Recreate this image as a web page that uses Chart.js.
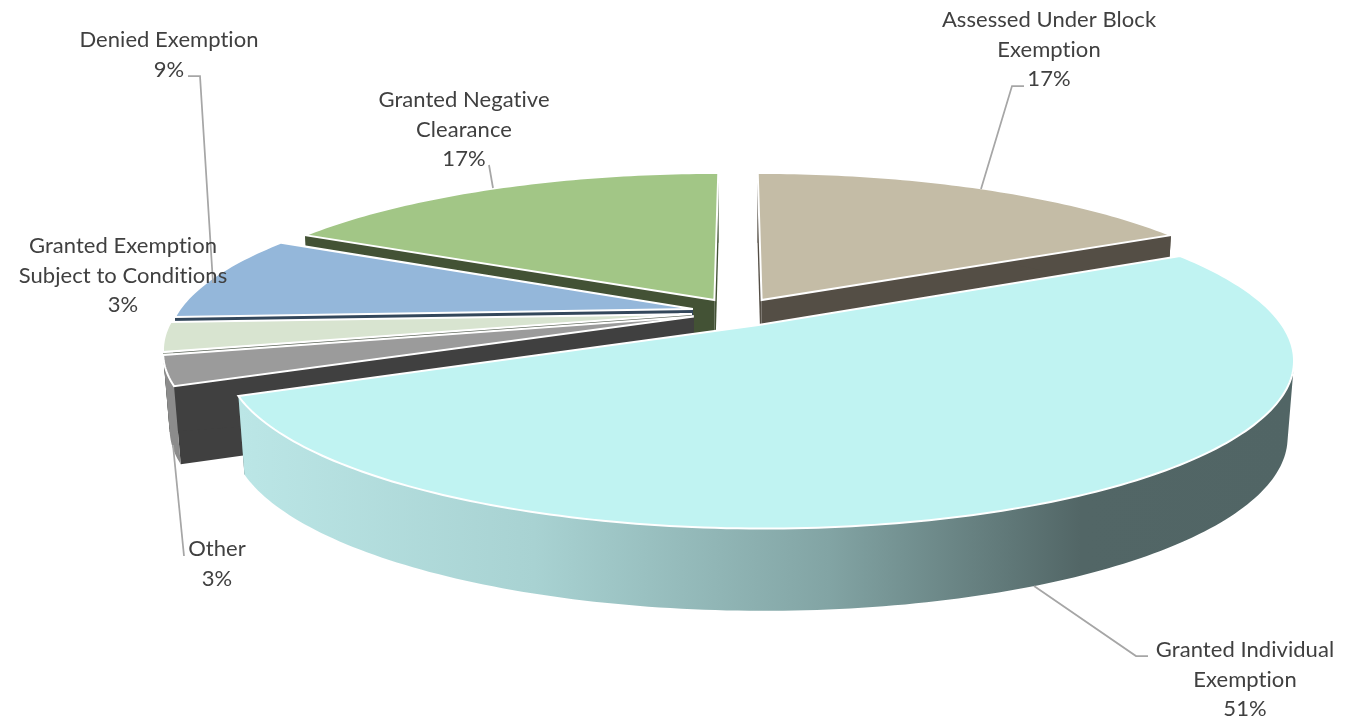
<!DOCTYPE html>
<html>
<head>
<meta charset="utf-8">
<title>Exemption outcomes</title>
<script src="https://cdn.jsdelivr.net/npm/chart.js@4"></script>
<style>
  html, body { margin: 0; padding: 0; background: #fff; }
  canvas { display: block; }
</style>
</head>
<body>
<canvas id="pie3d" width="1360" height="718"></canvas>
<script>
// Data, clockwise from twelve o'clock. Labels show whole percents, so the
// decimals are read from the slice corners in the picture.
const categories = ['Assessed Under Block Exemption', 'Granted Individual Exemption', 'Other',
  'Granted Exemption Subject to Conditions', 'Denied Exemption', 'Granted Negative Clearance'];
const shares = [17.3, 51.1, 2.9, 2.9, 8.5, 17.3];

// Colours per slice
const topColors = ['#c4bca6', '#c0f3f2', '#9b9b9b', '#d8e4d0', '#94b7da', '#a2c686'];
const sideColors = ['#544e45', '#4f6565', '#404040', '#5c6558', '#33475b', '#435235'];
const rimColors = ['#544e45', '#4f6565', '#8c8c8c', '#8c9488', '#33475b', '#435235'];
const bigRimStops = [[0, '#bbe6e6'], [0.28, '#a8d2d2'], [0.56, '#82a4a4'], [0.8, '#526666'], [1, '#516565']];

// Label layout: text lines, centre x, first baseline
const labelLines = [
  ['Assessed Under Block', 'Exemption'],
  ['Granted Individual', 'Exemption'],
  ['Other'],
  ['Granted Exemption', 'Subject to Conditions'],
  ['Denied Exemption'],
  ['Granted Negative', 'Clearance']
];
const labelX = [1049, 1245, 217, 123, 169, 464];
const labelY = [27, 657, 556, 253, 47, 107];
const leaders = [
  [[1024, 86], [1012, 86], [981, 189]],
  [[1148, 656], [1136, 656], [1034, 586]],
  [[184, 556], [173, 445]],
  [],
  [[188, 76], [200, 76], [213, 283]],
  [[489, 165], [493, 188]]
];

// Projection of the disc onto the screen (perspective camera looking down)
const cx = 738, cy = 312, rx = 515, ry = 157, persp = 0.2;
const explode = 0.09, depth = 76, depthPersp = 0.011;
const drawOrder = [0, 5, 4, 3, 2, 1]; // back to front

function project(x, y, low) {
  const w = 1 + persp * y + (low ? depthPersp : 0);
  return [cx + rx * x / w, cy - ry * y / w + (low ? depth / Math.sqrt(w) : 0)];
}

// chart.js angles start at -PI/2 with y pointing down
function discPoint(arc, angle, radius) {
  const mid = (arc.startAngle + arc.endAngle) / 2;
  return [explode * Math.cos(mid) + radius * Math.cos(angle),
          -explode * Math.sin(mid) - radius * Math.sin(angle)];
}

function rimPoints(arc, low) {
  const pts = [];
  const steps = Math.ceil((arc.endAngle - arc.startAngle) / (Math.PI / 180));
  for (let s = 0; s <= steps; s++) {
    const a = arc.startAngle + (arc.endAngle - arc.startAngle) * s / steps;
    const p = discPoint(arc, a, 1);
    pts.push(project(p[0], p[1], low));
  }
  return pts;
}

function tracePath(ctx, pts) {
  ctx.beginPath();
  addPoly(ctx, pts);
}

function addPoly(ctx, pts) {
  pts.forEach((p, i) => i ? ctx.lineTo(p[0], p[1]) : ctx.moveTo(p[0], p[1]));
  ctx.closePath();
}

const pie3d = {
  id: 'pie3d',
  beforeDatasetsDraw(chart) {
    const ctx = chart.ctx;
    const arcs = chart.getDatasetMeta(0).data;
    drawOrder.forEach(i => {
      const arc = arcs[i];
      const c = discPoint(arc, 0, 0);
      const apexTop = project(c[0], c[1], false);
      const apexLow = project(c[0], c[1], true);
      const top = rimPoints(arc, false);
      const low = rimPoints(arc, true);

      // flat cut faces
      ctx.fillStyle = sideColors[i];
      [0, top.length - 1].forEach(k => {
        tracePath(ctx, [apexTop, top[k], low[k], apexLow]);
        ctx.fill();
      });

      // curved outer wall, one quad per step so the silhouette stays straight
      if (i === 1) {
        const grad = ctx.createLinearGradient(240, 0, 1292, 0);
        bigRimStops.forEach(s => grad.addColorStop(s[0], s[1]));
        ctx.fillStyle = grad;
      } else {
        ctx.fillStyle = rimColors[i];
      }
      ctx.beginPath();
      for (let k = 0; k < top.length - 1; k++) {
        const q = [top[k], top[k + 1], low[k + 1], low[k]];
        // keep every quad wound the same way for the nonzero fill
        const area = (q[1][0] - q[0][0]) * (q[2][1] - q[0][1]) - (q[1][1] - q[0][1]) * (q[2][0] - q[0][0]);
        addPoly(ctx, area < 0 ? q.reverse() : q);
      }
      ctx.fill();

      // top face, colours resolved by chart.js from the dataset
      tracePath(ctx, [apexTop].concat(top));
      ctx.fillStyle = arc.options.backgroundColor;
      ctx.fill();
      ctx.strokeStyle = arc.options.borderColor;
      ctx.lineWidth = arc.options.borderWidth;
      ctx.lineJoin = 'miter';
      ctx.stroke();
    });
    return false;
  },
  afterDraw(chart) {
    const ctx = chart.ctx;
    ctx.save();
    ctx.strokeStyle = '#a6a6a6';
    ctx.lineWidth = 1.75;
    leaders.forEach(line => {
      if (!line.length) return;
      ctx.beginPath();
      line.forEach((p, i) => i ? ctx.lineTo(p[0], p[1]) : ctx.moveTo(p[0], p[1]));
      ctx.stroke();
    });
    ctx.font = '22px Lato';
    ctx.letterSpacing = '0.05px'; // keeps Lato from joining "ti"
    ctx.fillStyle = '#404040';
    ctx.textAlign = 'center';
    ctx.textBaseline = 'alphabetic';
    categories.forEach((name, i) => {
      const lines = labelLines[i].concat(Math.round(shares[i]) + '%');
      lines.forEach((t, k) => ctx.fillText(t, labelX[i], labelY[i] + k * 29.5));
    });
    ctx.restore();
  }
};

new Chart(document.getElementById('pie3d'), {
  type: 'pie',
  data: {
    labels: categories,
    datasets: [{
      data: shares,
      backgroundColor: topColors,
      borderColor: '#ffffff',
      borderWidth: 2
    }]
  },
  options: {
    responsive: false,
    animation: false,
    plugins: { legend: { display: false }, tooltip: { enabled: false } }
  },
  plugins: [pie3d]
});
</script>
</body>
</html>
